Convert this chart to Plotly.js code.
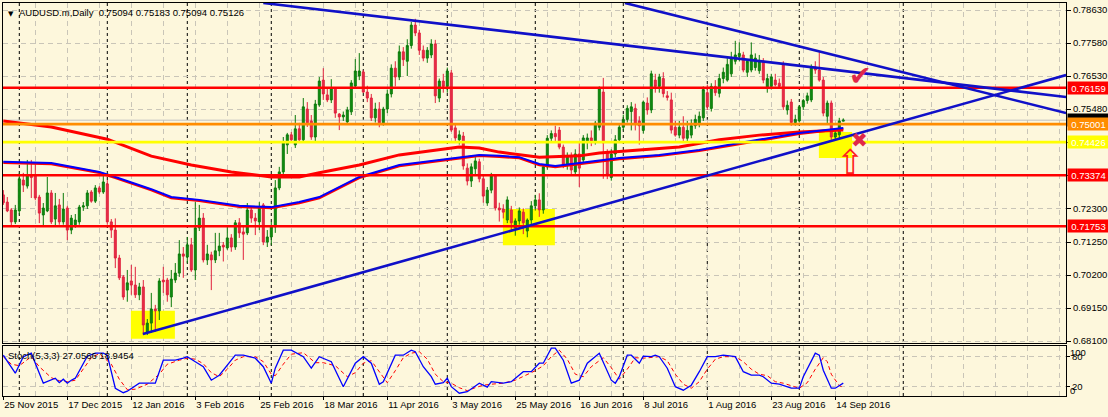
<!DOCTYPE html>
<html><head><meta charset="utf-8">
<script src="https://cdn.plot.ly/plotly-3.0.1.min.js"></script>
<style>html,body{margin:0;padding:0;background:#FDF7DC;}#chart{width:1108px;height:417px;}</style>
</head><body><div id="chart"></div>
<script>
// ---- Daily candles, bar index 0 = 25 Nov 2015 ... 210 = 16 Sep 2016 ----
const open = [0.7275,0.7252,0.7227,0.7189,0.7224,0.7322,0.7303,0.7338,0.7338,0.7268,
0.7211,0.7224,0.7281,0.7198,0.7243,0.7189,0.7233,0.7163,0.7180,0.7189,
0.7236,0.7240,0.7284,0.7255,0.7297,0.7284,0.7310,0.7189,0.7163,0.7074,
0.7014,0.6972,0.7001,0.6988,0.6957,0.6982,0.6839,0.6867,0.6912,0.6906,
0.7004,0.7004,0.6950,0.7004,0.7026,0.7087,0.7077,0.7116,0.7036,0.7170,
0.7201,0.7068,0.7084,0.7068,0.7097,0.7115,0.7106,0.7138,0.7109,0.7186,
0.7157,0.7154,0.7227,0.7201,0.7189,0.7243,0.7125,0.7141,0.7173,0.7297,
0.7348,0.7434,0.7466,0.7434,0.7485,0.7450,0.7548,0.7510,0.7459,0.7561,
0.7640,0.7593,0.7577,0.7615,0.7532,0.7523,0.7507,0.7539,0.7621,0.7653,
0.7666,0.7602,0.7583,0.7520,0.7548,0.7504,0.7548,0.7596,0.7678,0.7650,
0.7730,0.7700,0.7750,0.7815,0.7790,0.7735,0.7710,0.7720,0.7755,0.7583,
0.7637,0.7620,0.7663,0.7488,0.7450,0.7462,0.7360,0.7319,0.7358,0.7380,
0.7326,0.7249,0.7290,0.7335,0.7233,0.7230,0.7195,0.7227,0.7170,0.7192,
0.7220,0.7160,0.7195,0.7240,0.7259,0.7227,0.7364,0.7455,0.7470,0.7481,
0.7427,0.7370,0.7398,0.7348,0.7405,0.7386,0.7443,0.7456,0.7443,0.7490,
0.7602,0.7411,0.7330,0.7405,0.7450,0.7490,0.7515,0.7540,0.7550,0.7510,
0.7480,0.7567,0.7545,0.7640,0.7620,0.7645,0.7590,0.7577,0.7490,0.7465,
0.7490,0.7455,0.7465,0.7495,0.7500,0.7520,0.7600,0.7550,0.7620,0.7598,
0.7645,0.7640,0.7660,0.7700,0.7715,0.7720,0.7665,0.7672,0.7680,0.7670,
0.7700,0.7615,0.7620,0.7640,0.7630,0.7690,0.7545,0.7570,0.7505,0.7510,
0.7555,0.7575,0.7577,0.7682,0.7672,0.7640,0.7525,0.7567,0.7459,0.7466,
0.75094];
const high = [0.7290,0.7268,0.7233,0.7243,0.7345,0.7345,0.7386,0.7386,0.7380,0.7275,
0.7249,0.7332,0.7290,0.7281,0.7262,0.7281,0.7240,0.7211,0.7214,0.7243,
0.7252,0.7290,0.7290,0.7306,0.7303,0.7338,0.7322,0.7198,0.7200,0.7084,
0.7020,0.7036,0.7052,0.7046,0.6995,0.7004,0.6880,0.6963,0.6925,0.7010,
0.7046,0.7011,0.7036,0.7058,0.7131,0.7109,0.7141,0.7138,0.7252,0.7243,
0.7217,0.7116,0.7094,0.7154,0.7154,0.7125,0.7173,0.7150,0.7195,0.7201,
0.7173,0.7249,0.7236,0.7217,0.7252,0.7249,0.7163,0.7189,0.7322,0.7364,
0.7459,0.7472,0.7475,0.7529,0.7504,0.7583,0.7570,0.7529,0.7577,0.7650,
0.7678,0.7618,0.7643,0.7618,0.7535,0.7540,0.7555,0.7640,0.7707,0.7726,
0.7672,0.7622,0.7596,0.7568,0.7570,0.7555,0.7610,0.7690,0.7700,0.7750,
0.7745,0.7770,0.7825,0.7835,0.7800,0.7750,0.7745,0.7770,0.7768,0.7645,
0.7660,0.7680,0.7672,0.7500,0.7480,0.7475,0.7375,0.7375,0.7395,0.7390,
0.7335,0.7300,0.7345,0.7340,0.7250,0.7245,0.7270,0.7240,0.7200,0.7235,
0.7232,0.7200,0.7255,0.7275,0.7280,0.7370,0.7465,0.7480,0.7495,0.7491,
0.7435,0.7410,0.7410,0.7420,0.7440,0.7465,0.7470,0.7480,0.7510,0.7620,
0.7647,0.7420,0.7420,0.7465,0.7500,0.7530,0.7560,0.7570,0.7565,0.7525,
0.7575,0.7585,0.7670,0.7660,0.7660,0.7665,0.7605,0.7600,0.7510,0.7510,
0.7525,0.7510,0.7515,0.7530,0.7540,0.7620,0.7625,0.7630,0.7640,0.7660,
0.7680,0.7710,0.7730,0.7765,0.7760,0.7730,0.7705,0.7760,0.7725,0.7720,
0.7710,0.7660,0.7660,0.7660,0.7645,0.7700,0.7575,0.7580,0.7530,0.7560,
0.7580,0.7600,0.7690,0.7700,0.7729,0.7650,0.7575,0.7575,0.7485,0.7520,
0.75183];
const low = [0.7243,0.7220,0.7179,0.7182,0.7212,0.7284,0.7295,0.7265,0.7258,0.7185,
0.7173,0.7220,0.7182,0.7173,0.7180,0.7180,0.7131,0.7150,0.7170,0.7180,
0.7224,0.7230,0.7250,0.7249,0.7278,0.7278,0.7180,0.7138,0.7042,0.7004,
0.6941,0.6935,0.6957,0.6947,0.6940,0.6829,0.6829,0.6836,0.6839,0.6877,
0.6963,0.6935,0.6918,0.6995,0.7014,0.7011,0.7058,0.7030,0.7004,0.7160,
0.7060,0.7052,0.6972,0.7058,0.7080,0.7063,0.7100,0.7094,0.7100,0.7138,
0.7068,0.7147,0.7186,0.7147,0.7163,0.7115,0.7109,0.7115,0.7154,0.7290,
0.7335,0.7405,0.7440,0.7424,0.7443,0.7440,0.7491,0.7450,0.7443,0.7555,
0.7577,0.7570,0.7567,0.7520,0.7481,0.7510,0.7504,0.7529,0.7615,0.7640,
0.7599,0.7570,0.7510,0.7505,0.7490,0.7495,0.7535,0.7585,0.7620,0.7640,
0.7685,0.7653,0.7740,0.7780,0.7720,0.7700,0.7695,0.7710,0.7567,0.7570,
0.7600,0.7600,0.7475,0.7440,0.7435,0.7355,0.7305,0.7300,0.7340,0.7315,
0.7250,0.7240,0.7280,0.7225,0.7190,0.7200,0.7185,0.7160,0.7145,0.7180,
0.7150,0.7140,0.7180,0.7225,0.7205,0.7215,0.7355,0.7440,0.7445,0.7420,
0.7360,0.7355,0.7340,0.7335,0.7300,0.7375,0.7420,0.7430,0.7435,0.7480,
0.7326,0.7325,0.7320,0.7395,0.7440,0.7480,0.7505,0.7480,0.7480,0.7435,
0.7470,0.7530,0.7535,0.7600,0.7600,0.7585,0.7575,0.7470,0.7460,0.7455,
0.7440,0.7445,0.7455,0.7485,0.7490,0.7510,0.7545,0.7540,0.7590,0.7585,
0.7630,0.7635,0.7650,0.7690,0.7700,0.7665,0.7650,0.7665,0.7670,0.7660,
0.7630,0.7600,0.7610,0.7620,0.7615,0.7545,0.7530,0.7495,0.7495,0.7505,
0.7545,0.7565,0.7570,0.7660,0.7635,0.7525,0.7500,0.7450,0.7448,0.7455,
0.75094];
const close = [0.7250,0.7224,0.7189,0.7227,0.7326,0.7306,0.7338,0.7330,0.7265,0.7217,
0.7233,0.7281,0.7189,0.7240,0.7189,0.7230,0.7163,0.7201,0.7195,0.7236,
0.7240,0.7281,0.7255,0.7297,0.7284,0.7316,0.7189,0.7163,0.7074,0.7011,
0.6950,0.6995,0.6988,0.6957,0.6982,0.6861,0.6867,0.6912,0.6906,0.7001,
0.6998,0.6957,0.7007,0.7026,0.7087,0.7080,0.7116,0.7036,0.7170,0.7201,
0.7068,0.7087,0.7068,0.7097,0.7112,0.7109,0.7138,0.7109,0.7186,0.7154,
0.7150,0.7227,0.7201,0.7192,0.7236,0.7125,0.7141,0.7173,0.7297,0.7348,
0.7440,0.7466,0.7450,0.7485,0.7450,0.7555,0.7504,0.7459,0.7564,0.7637,
0.7596,0.7577,0.7615,0.7535,0.7523,0.7529,0.7545,0.7631,0.7669,0.7669,
0.7602,0.7583,0.7520,0.7548,0.7504,0.7548,0.7596,0.7678,0.7650,0.7730,
0.7705,0.7750,0.7815,0.7790,0.7735,0.7710,0.7735,0.7755,0.7590,0.7637,
0.7620,0.7669,0.7481,0.7456,0.7466,0.7367,0.7319,0.7364,0.7383,0.7326,
0.7271,0.7290,0.7335,0.7233,0.7227,0.7220,0.7259,0.7186,0.7192,0.7224,
0.7186,0.7195,0.7240,0.7259,0.7227,0.7364,0.7455,0.7470,0.7460,0.7427,
0.7370,0.7398,0.7354,0.7405,0.7360,0.7456,0.7456,0.7445,0.7503,0.7615,
0.7440,0.7340,0.7405,0.7450,0.7490,0.7515,0.7550,0.7555,0.7500,0.7495,
0.7570,0.7545,0.7660,0.7620,0.7650,0.7597,0.7585,0.7481,0.7465,0.7490,
0.7455,0.7480,0.7495,0.7515,0.7525,0.7610,0.7555,0.7620,0.7600,0.7645,
0.7665,0.7690,0.7710,0.7720,0.7725,0.7672,0.7700,0.7720,0.7710,0.7700,
0.7640,0.7645,0.7650,0.7625,0.7620,0.7555,0.7560,0.7505,0.7515,0.7555,
0.7575,0.7590,0.7682,0.7672,0.7640,0.7535,0.7567,0.7459,0.7472,0.7510,
0.75126];

// ---- Moving averages (read at sample bars) ----
const ma1Idx = [0,12,26,37,47,57,67,74,79,89,99,109,114,119,124,134,144,149,159,169,179,189,199,210];
const ma1 = [0.7510,0.7491,0.7452,0.7398,0.7370,0.7348,0.7332,0.7332,0.7345,0.7370,0.7402,0.7418,0.7427,0.7424,0.7411,0.7395,0.7399,0.7408,0.7418,0.7427,0.7450,0.7465,0.7475,0.7481];
const ma2Idx = [0,12,24,28,37,42,49,59,67,74,79,89,99,109,119,124,129,134,138,144,154,164,174,184,189,199,210];
const ma2Blue = [0.7380,0.7376,0.7348,0.7332,0.7293,0.7268,0.7259,0.7240,0.7236,0.7252,0.7268,0.7332,0.7370,0.7386,0.7402,0.7399,0.7395,0.7373,0.7367,0.7376,0.7392,0.7402,0.7418,0.7440,0.7450,0.7472,0.7488];
const ma2Red = [0.7377,0.7373,0.7345,0.7329,0.7290,0.7265,0.7256,0.7237,0.7233,0.7249,0.7265,0.7329,0.7367,0.7383,0.7399,0.7396,0.7392,0.7370,0.7364,0.7373,0.7389,0.7399,0.7415,0.7437,0.7447,0.7469,0.7485];

// ---- Stochastic (5,3,3) ----
const stochKIdx = [0,3,5,7,10,12,13,14,15,16,17,18,21,23,25,26,28,30,31,34,38,40,43,45,46,48,50,52,54,57,58,60,63,65,67,68,70,72,75,77,79,82,85,88,90,92,94,95,98,100,102,103,105,107,108,110,111,112,114,116,119,121,122,125,127,130,132,134,135,137,138,140,142,144,146,149,152,153,154,156,157,159,160,162,163,164,166,168,170,172,174,176,178,180,183,185,187,189,190,192,194,197,199,200,202,203,204,205,207,208,210];
const stochK = [83,47,80,87,27,33,37,28,35,27,33,37,81,87,87,83,17,8,11,27,27,73,73,77,80,70,60,33,43,73,83,83,77,60,27,57,93,93,80,57,80,70,20,67,80,67,25,30,83,83,93,90,60,40,25,28,37,20,7,10,27,19,30,27,30,50,50,67,67,97,97,73,27,33,67,87,33,27,40,83,83,67,81,80,83,80,57,20,13,23,50,80,80,83,80,50,43,43,40,27,25,17,17,40,73,87,83,53,17,17,27.0566];
const stochDIdx = [0,2,4,7,9,12,14,16,18,20,22,24,27,29,31,33,36,39,41,44,46,48,50,52,54,56,58,60,63,65,67,68,70,72,75,78,80,83,86,88,90,92,94,96,98,100,102,104,106,108,110,112,114,116,118,120,122,125,128,131,133,135,137,139,141,143,145,147,150,152,154,156,158,160,162,164,166,168,170,172,174,176,178,180,183,185,187,189,191,193,195,197,199,201,203,205,206,207,209,210];
const stochD = [80,65,62,80,60,38,32,30,33,55,78,86,65,35,14,15,25,45,65,73,77,75,66,48,40,55,73,80,80,70,45,42,65,85,88,68,68,62,40,48,67,72,50,28,52,78,87,90,75,45,30,27,18,12,18,23,25,27,33,45,52,62,80,93,75,45,40,60,78,58,35,55,78,77,78,80,72,45,25,17,30,55,75,80,80,70,55,45,42,30,27,22,17,28,55,78,70,45,22,18.9454];

// ---- Axis labels ----
const dateTickIdx = [0,16,32,48,64,80,96,112,128,144,160,176,192,208];
const dateTickText = ['25 Nov 2015','17 Dec 2015','12 Jan 2016','3 Feb 2016','25 Feb 2016','18 Mar 2016','11 Apr 2016','3 May 2016','25 May 2016','16 Jun 2016','8 Jul 2016','1 Aug 2016','23 Aug 2016','14 Sep 2016'];
const priceTicks = [0.78630,0.77580,0.76530,0.75480,0.74420,0.73360,0.72300,0.71250,0.70200,0.69150,0.68100];
const priceTickText = ['0.78630','0.77580','0.76530','0.75480','','','0.72300','0.71250','0.70200','0.69150','0.68100'];
const monthStartIdx = [4,26,46,67,90,111,133,155,176,199,225];

// ---- Drawn objects ----
const levelPrices = [0.76159,0.75001,0.74426,0.73374,0.71753];
const levelText = ['0.76159','0.75001','0.74426','0.73374','0.71753'];
const bidPrice = 0.75126;
const trendStartIdx = [65,155.4,34.9];
const trendStartPrice = [0.78853,0.78853,0.68324];
const trendEndIdx = [265.7,265.7,265.7];
const trendEndPrice = [0.75863,0.75354,0.76562];
const boxIdx0 = [31.9,124.9,203.9], boxIdx1 = [42.9,137.9,212.2];
const boxPrice0 = [0.6817,0.7115,0.7392], boxPrice1 = [0.6906,0.7230,0.7475];
const signIdx = [214.2,214.0,211.9];
const signPrice = [0.7656,0.7449,0.7378];
const signText = ['\u2714','\u2716','\u21E7'];

// ---- Styles ----
const BG = '#FDF7DC', GRID = '#C9C5B8', FONT = 'Liberation Sans, Arial, sans-serif';
const levelColors = ['#FF0000','#FF8C00','#FFFF00','#FF0000','#FF0000'];
const signSizes = [27,20,34];
const idx = open.map((_, i) => i);
const XR = [-0.075, 265.68];

const traces = [
  {type:'candlestick', x:idx, open:open, high:high, low:low, close:close, xaxis:'x', yaxis:'y',
   increasing:{line:{color:'#0A7A0A', width:1}, fillcolor:'#109010'},
   decreasing:{line:{color:'#E0203C', width:1}, fillcolor:'#E8304A'},
   whiskerwidth:0, hoverinfo:'skip'},
  {type:'scatter', mode:'lines', x:ma1Idx, y:ma1, xaxis:'x', yaxis:'y', line:{color:'#FF0000', width:3}, hoverinfo:'skip'},
  {type:'scatter', mode:'lines', x:ma2Idx, y:ma2Red, xaxis:'x', yaxis:'y', line:{color:'#FF0000', width:2.5}, hoverinfo:'skip'},
  {type:'scatter', mode:'lines', x:ma2Idx, y:ma2Blue, xaxis:'x', yaxis:'y', line:{color:'#0000FF', width:2}, hoverinfo:'skip'},
  {type:'scatter', mode:'lines', x:stochDIdx, y:stochD, xaxis:'x2', yaxis:'y2', line:{color:'#FF0000', width:1, dash:'4px,3px'}, hoverinfo:'skip'},
  {type:'scatter', mode:'lines', x:stochKIdx, y:stochK, xaxis:'x2', yaxis:'y2', line:{color:'#0000FF', width:1.3}, hoverinfo:'skip'}
];

const shapes = [];
for (let i = 0; i < boxIdx0.length; i++) {
  shapes.push({type:'rect', xref:'x', yref:'y', x0:boxIdx0[i], x1:boxIdx1[i], y0:boxPrice0[i], y1:boxPrice1[i],
    fillcolor:'#FFFF00', line:{width:0}, layer:'between'});
}
monthStartIdx.forEach(k => shapes.push({type:'line', xref:'x', yref:'paper', x0:k, x1:k, y0:0, y1:1,
  line:{color:'#000', width:1, dash:'3px,3px'}, layer:'between'}));
shapes.push({type:'line', xref:'paper', yref:'y', x0:0, x1:1, y0:bidPrice, y1:bidPrice, line:{color:'#C0C0C0', width:1}, layer:'between'});
levelPrices.forEach((p, i) => shapes.push({type:'line', xref:'paper', yref:'y', x0:0, x1:1, y0:p, y1:p,
  line:{color:levelColors[i], width:2.6}, layer:'above'}));
for (let i = 0; i < trendStartIdx.length; i++) {
  shapes.push({type:'line', xref:'x', yref:'y', x0:trendStartIdx[i], y0:trendStartPrice[i], x1:trendEndIdx[i], y1:trendEndPrice[i],
    line:{color:'#1010C8', width:2.6}, layer:'above'});
}

const annotations = [];
annotations.push({xref:'paper', x:1, xanchor:'left', xshift:1, yref:'y', y:bidPrice, yanchor:'middle', text:'0.75126',
  showarrow:false, bgcolor:'#000000', font:{color:'#FFFFFF', size:9.5, family:FONT}, width:41, height:12, borderpad:0, align:'center'});
levelPrices.forEach((p, i) => annotations.push({xref:'paper', x:1, xanchor:'left', xshift:1, yref:'y', y:p, yanchor:'middle',
  text:levelText[i], showarrow:false, bgcolor:levelColors[i], font:{color:'#FFFFFF', size:9.5, family:FONT},
  width:41, height:12, borderpad:0, align:'center'}));
signText.forEach((t, i) => annotations.push({xref:'x', yref:'y', x:signIdx[i], y:signPrice[i], text:t, showarrow:false,
  font:{color: i === 2 ? '#FF2020' : '#E0284A', size:signSizes[i], family:'DejaVu Sans'}, xanchor:'center', yanchor:'middle'}));
annotations.push({xref:'paper', yref:'paper', x:0, y:1, xanchor:'left', yanchor:'top', xshift:3, yshift:-5,
  text:'\u25BC', showarrow:false, font:{size:7, color:'#000', family:'DejaVu Sans'}});
annotations.push({xref:'paper', yref:'paper', x:0, y:1, xanchor:'left', yanchor:'top', xshift:14, yshift:-2,
  text:'AUDUSD.m,Daily&nbsp;&nbsp;0.75094 0.75183 0.75094 0.75126', showarrow:false, font:{size:9.5, color:'#000', family:FONT}});
annotations.push({xref:'paper', yref:'paper', x:0, y:0.12723, xanchor:'left', yanchor:'top', xshift:3, yshift:-2,
  text:'Stoch(5,3,3) 27.0566 18.9454', showarrow:false, font:{size:9.5, color:'#000', family:FONT}});
annotations.push({xref:'paper', yref:'y2', x:1, y:88, xanchor:'left', xshift:2, yanchor:'middle', text:'100', showarrow:false, font:{size:9.5, color:'#000', family:FONT}});
annotations.push({xref:'paper', yref:'y2', x:1, y:13, xanchor:'left', xshift:2, yanchor:'middle', text:'0', showarrow:false, font:{size:9.5, color:'#000', family:FONT}});

const gridX = {showgrid:true, gridcolor:GRID, griddash:'5px,4px', gridwidth:1,
  minor:{tickmode:'linear', tick0:0, dtick:8, showgrid:true, gridcolor:GRID, griddash:'5px,4px', gridwidth:1, ticks:''}};

const layout = {
  width:1108, height:417, margin:{l:3, r:42, t:3, b:21},
  paper_bgcolor:BG, plot_bgcolor:BG, showlegend:false, hovermode:false,
  font:{family:FONT, size:9.5, color:'#000'},
  xaxis:Object.assign({domain:[0,1], anchor:'y', range:XR, tickmode:'array', tickvals:dateTickIdx, showticklabels:false, ticks:'',
    showline:true, mirror:true, linecolor:'#000', linewidth:1, zeroline:false, rangeslider:{visible:false}, fixedrange:true}, gridX),
  yaxis:{domain:[0.13486,1], anchor:'x', side:'right', range:[0.68037,0.78853], tickmode:'array', tickvals:priceTicks, ticktext:priceTickText,
    ticks:'outside', ticklen:4, tickcolor:'#000', showgrid:true, gridcolor:GRID, griddash:'5px,4px',
    showline:true, mirror:true, linecolor:'#000', linewidth:1, zeroline:false, fixedrange:true},
  xaxis2:Object.assign({domain:[0,1], anchor:'y2', range:XR, tickmode:'array', tickvals:dateTickIdx, ticktext:dateTickText,
    ticks:'outside', ticklen:3, tickcolor:'#000', ticklabelposition:'outside right',
    showline:true, mirror:true, linecolor:'#000', linewidth:1, zeroline:false, fixedrange:true}, gridX),
  yaxis2:{domain:[0,0.12723], anchor:'x2', side:'right', range:[1.4,101.4], tickmode:'array', tickvals:[20,80], ticktext:['20','80'],
    ticks:'outside', ticklen:3, tickcolor:'#000', showgrid:true, gridcolor:GRID, griddash:'5px,4px',
    showline:true, mirror:true, linecolor:'#000', linewidth:1, zeroline:false, fixedrange:true},
  shapes:shapes, annotations:annotations
};

Plotly.newPlot('chart', traces, layout, {staticPlot:true, displayModeBar:false});
</script></body></html>
